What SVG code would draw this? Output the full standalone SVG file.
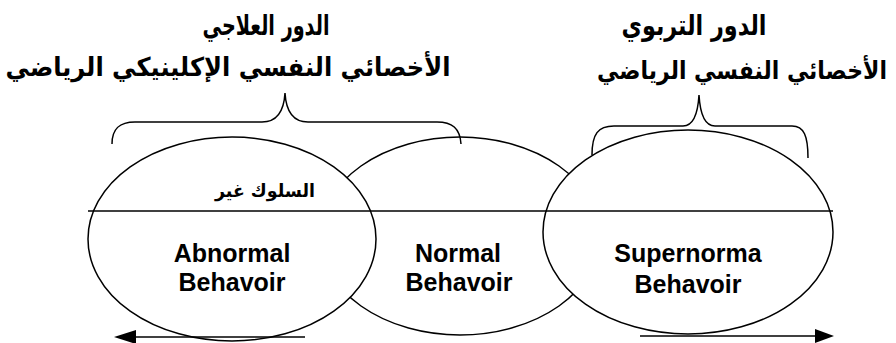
<svg xmlns="http://www.w3.org/2000/svg" width="896" height="343" viewBox="0 0 896 343">
<style>
.ell{fill:#fff;stroke:#000;stroke-width:1.5}
.ln{fill:none;stroke:#000;stroke-width:1.5}
.head{fill:#000}
.en{font-family:"Liberation Sans",Arial,sans-serif;font-weight:bold;font-size:25px;text-anchor:middle;fill:#000}
.ar{font-family:"DejaVu Sans","Noto Sans",sans-serif;font-weight:bold;text-anchor:middle;fill:#000}
</style>
<g id="normal">
<ellipse class="ell" cx="460" cy="236" rx="140" ry="99"/>
</g>
<g id="abnormal">
<ellipse class="ell" cx="232" cy="239" rx="144" ry="102"/>
</g>
<g id="supernormal">
<ellipse class="ell" cx="688" cy="232" rx="145" ry="102"/>
</g>
<g id="connectors">
<line class="ln" x1="88" y1="211" x2="833" y2="211"/>
<line class="ln" x1="305" y1="337" x2="130" y2="337"/>
<polygon class="head" points="114,337 136,330 136,344"/>
<line class="ln" x1="640" y1="336" x2="818" y2="336"/>
<polygon class="head" points="834,336 815,329 815,343"/>
<path class="ln" d="M112,144 C112,128 120,122 135,122 L262,122 C278,122 284,110 285,93 C286,110 292,122 308,122 L437,122 C452,122 460,128 461,144"/>
<path class="ln" d="M592,155 C592,134 598,126 614,126 L683,126 C694,126 698,112 699,95 C700,112 704,126 715,126 L792,126 C804,126 808,136 808,158"/>
</g>
<g id="labels">
<text class="en" x="232" y="262">Abnormal</text>
<text class="en" x="232" y="291">Behavoir</text>
<text class="en" x="458" y="262">Normal</text>
<text class="en" x="459" y="291">Behavoir</text>
<text class="en" x="688" y="262">Supernorma</text>
<text class="en" x="688" y="293">Behavoir</text>
<text class="ar" x="265" y="197" font-size="18" textLength="100" lengthAdjust="spacingAndGlyphs">السلوك غير</text>
<text class="ar" x="266" y="35" font-size="28" textLength="127" lengthAdjust="spacingAndGlyphs">الدور العلاجي</text>
<text class="ar" x="228" y="76" font-size="26" textLength="445" lengthAdjust="spacingAndGlyphs">الأخصائي النفسي الإكلينيكي الرياضي</text>
<text class="ar" x="694" y="35" font-size="28" textLength="145" lengthAdjust="spacingAndGlyphs">الدور التربوي</text>
<text class="ar" x="742" y="79" font-size="25" textLength="290" lengthAdjust="spacingAndGlyphs">الأخصائي النفسي الرياضي</text>
</g>
</svg>
